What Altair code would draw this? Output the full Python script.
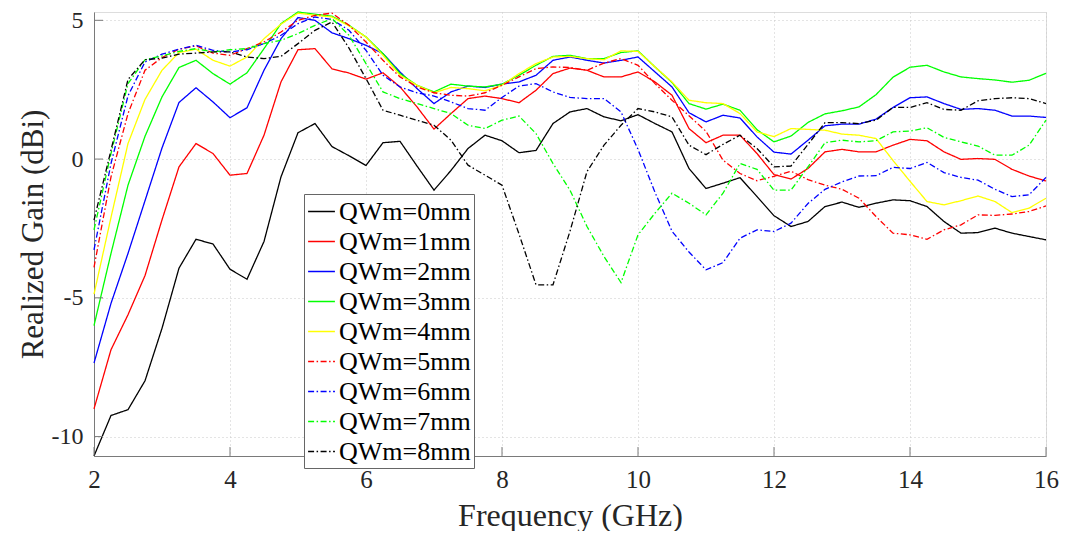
import altair as alt
import pandas as pd

freq = [2 + 0.25 * i for i in range(57)]

series_names = ["QWm=0mm", "QWm=1mm", "QWm=2mm", "QWm=3mm", "QWm=4mm",
                "QWm=5mm", "QWm=6mm", "QWm=7mm", "QWm=8mm"]
series_colors = ["#000000", "#ff0000", "#0000ff", "#00ff00", "#ffff00",
                 "#ff0000", "#0000ff", "#00ff00", "#000000"]

qw0 = [-10.7, -9.24, -9.03, -7.99, -6.1, -3.93, -2.89, -3.06, -3.97, -4.33, -2.97, -0.64, 0.95, 1.28,
       0.45, 0.12, -0.23, 0.59, 0.64, -0.25, -1.12, -0.41, 0.38, 0.86, 0.66, 0.23, 0.31, 1.28, 1.70,
       1.82, 1.52, 1.38, 1.60, 1.28, 0.98, -0.34, -1.06, -0.87, -0.67, -1.35, -2.04, -2.43, -2.25,
       -1.71, -1.55, -1.74, -1.59, -1.47, -1.50, -1.71, -2.25, -2.67, -2.65, -2.49, -2.67, -2.79, -2.91]
qw1 = [-9.0, -6.87, -5.61, -4.2, -2.19, -0.28, 0.56, 0.20, -0.58, -0.52, 0.86, 2.78, 3.94, 3.98,
       3.25, 3.1, 2.88, 3.11, 2.60, 1.88, 1.08, 1.64, 2.18, 2.27, 2.18, 2.03, 2.48, 3.08, 3.28,
       3.20, 2.96, 2.96, 3.14, 2.78, 2.30, 1.10, 0.59, 0.86, 0.86, 0.20, -0.56, -0.72, -0.34,
       0.26, 0.35, 0.26, 0.26, 0.50, 0.71, 0.66, 0.26, -0.01, 0.02, -0.01, -0.37, -0.61, -0.79]
qw2 = [-7.35, -5.2, -3.4, -1.5, 0.4, 2.04, 2.57, 2.06, 1.49, 1.85, 3.2, 4.34, 5.1, 5.0,
       4.55, 4.34, 4.1, 3.8, 3.14, 2.54, 2.0, 2.42, 2.63, 2.58, 2.7, 2.78, 3.02, 3.56, 3.68,
       3.56, 3.46, 3.56, 3.68, 3.14, 2.6, 1.67, 1.34, 1.58, 1.48, 0.8, 0.25, 0.18, 0.68,
       1.2, 1.26, 1.26, 1.44, 1.86, 2.21, 2.24, 2.0, 1.79, 1.82, 1.76, 1.55, 1.55, 1.5]
qw3 = [-6.0, -3.4, -0.94, 0.82, 2.24, 3.3, 3.56, 3.08, 2.7, 3.11, 3.98, 4.88, 5.3, 5.22,
       5.15, 4.82, 4.4, 3.8, 3.08, 2.66, 2.42, 2.7, 2.63, 2.6, 2.7, 3.02, 3.38, 3.7, 3.74,
       3.62, 3.62, 3.84, 3.9, 3.32, 2.76, 2.0, 1.8, 1.98, 1.76, 1.06, 0.62, 0.83, 1.32,
       1.63, 1.74, 1.88, 2.32, 2.95, 3.31, 3.38, 3.14, 2.96, 2.9, 2.85, 2.77, 2.84, 3.09]
qw4 = [-4.87, -2.1, 0.56, 2.15, 3.2, 3.84, 3.96, 3.56, 3.35, 3.68, 4.34, 4.86, 5.26, 5.18,
       5.12, 4.8, 4.4, 3.74, 3.02, 2.66, 2.39, 2.58, 2.54, 2.46, 2.66, 3.08, 3.44, 3.68, 3.7,
       3.62, 3.58, 3.9, 3.88, 3.32, 2.78, 2.12, 2.03, 2.0, 1.64, 0.98, 0.81, 1.1, 1.07,
       1.04, 0.9, 0.86, 0.74, -0.05, -0.8, -1.53, -1.65, -1.5, -1.33, -1.53, -1.93, -1.77, -1.41]
qw5 = [-3.9, -0.64, 1.64, 3.2, 3.66, 3.96, 4.08, 3.82, 3.74, 3.98, 4.22, 4.58, 5.0, 5.18,
       5.26, 4.82, 4.22, 3.56, 2.96, 2.6, 2.39, 2.3, 2.27, 2.39, 2.66, 2.96, 3.26, 3.32, 3.3,
       3.2, 3.46, 3.62, 3.38, 2.72, 2.12, 1.56, 1.0, -0.04, -0.52, -0.78, -0.62, -0.44, -0.74,
       -0.94, -1.09, -1.41, -2.07, -2.67, -2.73, -2.89, -2.55, -2.37, -2.01, -2.03, -1.98, -1.89, -1.69]
qw6 = [-3.27, -0.16, 2.28, 3.5, 3.78, 3.96, 4.1, 3.92, 3.86, 3.94, 4.16, 4.46, 4.88, 5.12,
       5.03, 4.64, 3.92, 3.02, 2.6, 2.39, 2.27, 2.06, 1.82, 1.76, 2.22, 2.63, 2.72, 2.42, 2.22,
       2.18, 2.18, 1.7, 0.35, -1.2, -2.6, -3.35, -3.99, -3.73, -2.85, -2.55, -2.61, -2.31, -1.6,
       -1.09, -0.82, -0.61, -0.6, -0.3, -0.34, -0.12, -0.49, -0.66, -0.76, -1.09, -1.35, -1.29, -0.66]
qw7 = [-2.55, 0.2, 2.72, 3.58, 3.72, 3.88, 3.98, 3.86, 3.94, 3.98, 4.16, 4.28, 4.52, 4.82,
       5.06, 4.46, 3.44, 2.42, 2.18, 2.0, 1.82, 1.64, 1.22, 1.1, 1.4, 1.55, 0.92, -0.16, -1.12,
       -2.43, -3.51, -4.45, -2.73, -1.95, -1.23, -1.59, -2.01, -1.23, -0.16, -0.37, -1.12, -1.12, -0.28,
       0.59, 0.68, 0.62, 0.66, 0.98, 1.01, 1.13, 0.78, 0.62, 0.47, 0.14, 0.14, 0.5, 1.4]
qw8 = [-2.2, 0.32, 2.87, 3.58, 3.64, 3.78, 3.82, 3.86, 3.86, 3.68, 3.62, 3.7, 4.16, 4.64,
       4.94, 4.0, 2.9, 1.76, 1.58, 1.4, 1.22, 0.68, -0.22, -0.58, -0.94, -2.7, -4.53, -4.53, -2.6,
       -0.45, 0.5, 1.22, 1.82, 1.7, 1.52, 0.5, 0.16, 0.53, 0.86, 0.38, -0.28, -0.25, 0.53,
       1.31, 1.31, 1.28, 1.4, 1.86, 1.86, 2.03, 1.79, 1.76, 2.1, 2.18, 2.21, 2.18, 2.0]

all_series = [qw0, qw1, qw2, qw3, qw4, qw5, qw6, qw7, qw8]

x_ticks = [2, 4, 6, 8, 10, 12, 14, 16]
y_ticks = [-10, -5, 0, 5]

rows = []
for name, vals in zip(series_names, all_series):
    for f, g in zip(freq, vals):
        rows.append({"freq": f, "gain": g, "series": name})
df = pd.DataFrame(rows)

W, H = 952, 444
FONT = "Liberation Serif"
TXT = "#262626"
AX = "#7a7a7a"

xscale = alt.Scale(domain=[2, 16], nice=False, zero=False)
yscale = alt.Scale(domain=[-10.7, 5.3], nice=False, zero=False)

xaxis = alt.Axis(values=x_ticks, title="Frequency (GHz)", ticks=False,
                 grid=True, gridDash=[1, 3], gridColor="#c8c8c8",
                 domainColor=AX, labelFont=FONT, labelFontSize=25,
                 labelColor=TXT, labelPadding=11, titleFont=FONT,
                 titleFontSize=32, titleFontWeight="normal",
                 titleColor=TXT, titlePadding=8, labelFlush=False,
                 labelExpr="'' + datum.value")
yaxis = alt.Axis(values=y_ticks, title="Realized Gain (dBi)", ticks=False,
                 grid=True, gridDash=[1, 3], gridColor="#c8c8c8",
                 domainColor=AX, labelFont=FONT, labelFontSize=24,
                 labelColor=TXT, labelPadding=11, titleFont=FONT,
                 titleFontSize=31, titleFontWeight="normal",
                 titleColor=TXT, titleX=-61, titleBaseline="middle",
                 labelFlush=False, labelExpr="'' + datum.value")

solid = [1, 0]
dashdot = [6, 2.5, 1.5, 2.5]
dash_range = [solid] * 5 + [dashdot] * 4

leg = alt.Legend(
    title=None, orient="none", legendX=210, legendY=182,
    symbolType="stroke", symbolSize=720, symbolStrokeWidth=1.3,
    labelFont=FONT, labelFontSize=26, labelColor="#000000", labelOffset=3,
    rowPadding=2, padding=3, strokeColor="#666666", fillColor="#ffffff",
)

lines = alt.Chart(df).mark_line(strokeWidth=1.3).encode(
    x=alt.X("freq:Q", scale=xscale, axis=xaxis),
    y=alt.Y("gain:Q", scale=yscale, axis=yaxis),
    color=alt.Color("series:N", scale=alt.Scale(domain=series_names, range=series_colors), legend=leg),
    strokeDash=alt.StrokeDash("series:N", scale=alt.Scale(domain=series_names, range=dash_range), legend=leg),
)

yt = alt.Chart(pd.DataFrame({"v": y_ticks})).mark_rule(color=AX, strokeWidth=1).encode(
    y=alt.Y("v:Q", scale=yscale, axis=yaxis),
    x=alt.value(0), x2=alt.value(9),
)
xt = alt.Chart(pd.DataFrame({"v": x_ticks})).mark_rule(color=AX, strokeWidth=1).encode(
    x=alt.X("v:Q", scale=xscale, axis=xaxis),
    y=alt.value(H), y2=alt.value(H - 9),
)

chart = alt.layer(lines, yt, xt).properties(
    width=W, height=H,
    autosize=alt.AutoSizeParams(type="none"),
    padding={"left": 86, "top": 4, "right": 14, "bottom": 75},
).configure_view(strokeWidth=0).configure(background="#ffffff")

chart.save("out.html", embed_options={"renderer": "svg", "actions": False})
